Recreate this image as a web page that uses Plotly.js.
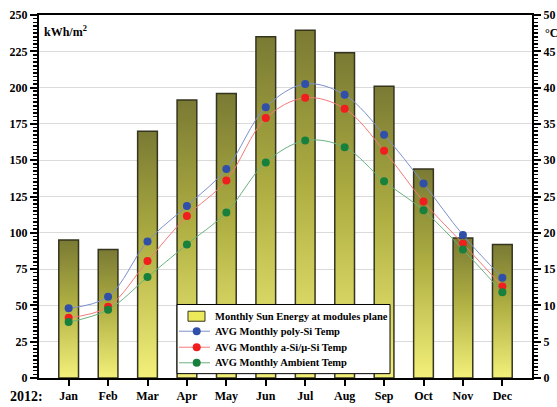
<!DOCTYPE html>
<html>
<head>
<meta charset="utf-8">
<script src="https://cdn.plot.ly/plotly-3.0.1.min.js"></script>
<style>
  html, body { margin: 0; padding: 0; background: #fff; }
  #chart { width: 557px; height: 407px; }
</style>
</head>
<body>
<div id="chart"></div>
<script>
// Monthly solar energy on the module plane (kWh/m2) and average monthly temperatures (°C), 2012
const months = ['Jan', 'Feb', 'Mar', 'Apr', 'May', 'Jun', 'Jul', 'Aug', 'Sep', 'Oct', 'Nov', 'Dec'];
const sunEnergy = [95, 88.5, 170, 191.5, 196, 235, 239.5, 224, 201, 144, 96.5, 92];
const polySiTemp = [9.6, 11.2, 18.8, 23.7, 28.8, 37.3, 40.5, 39.0, 33.5, 26.8, 19.7, 13.8];
const aSiTemp = [8.3, 9.8, 16.1, 22.3, 27.2, 35.8, 38.6, 37.1, 31.3, 24.3, 18.5, 12.6];
const ambientTemp = [7.7, 9.4, 13.9, 18.4, 22.8, 29.7, 32.7, 31.8, 27.1, 23.1, 17.7, 11.8];
const seriesNames = [
  'Monthly Sun Energy at modules plane',
  'AVG Monthly poly-Si Temp',
  'AVG Monthly a-Si/\u03bc-Si Temp',
  'AVG Monthly Ambient Temp'
];

const serif = '"Liberation Serif", "Times New Roman", serif';
const tickFont = { family: serif, size: 12, color: '#000', weight: 'bold' };
const barFill = '#ece95a';
const tempStyles = [
  { marker: '#2f4fa8', line: '#7d90cf' },
  { marker: '#f01e1e', line: '#f47a7a' },
  { marker: '#17803c', line: '#6cb27f' }
];

function tempTrace(name, values, style) {
  return {
    type: 'scatter', mode: 'lines+markers', name: name,
    x: months, y: values, yaxis: 'y2',
    line: { shape: 'spline', smoothing: 1, width: 1, color: style.line },
    marker: { size: 8, color: style.marker }
  };
}

const traces = [
  {
    type: 'bar', name: seriesNames[0],
    x: months, y: sunEnergy, width: 0.5,
    marker: { color: barFill, line: { color: '#35351f', width: 1.5 } }
  },
  tempTrace(seriesNames[1], polySiTemp, tempStyles[0]),
  tempTrace(seriesNames[2], aSiTemp, tempStyles[1]),
  tempTrace(seriesNames[3], ambientTemp, tempStyles[2])
];

// Boxed key in the lower middle of the plot, drawn with shapes and annotations
const key = { x0: 0.280, x1: 0.712, y0: 0.012, y1: 0.2025,
              rows: [0.1702, 0.1289, 0.0848, 0.0419],
              lineX0: 0.284, lineX1: 0.3469, markX: 0.3199, textX: 0.3523 };
const keyShapes = [
  { type: 'rect', xref: 'paper', yref: 'paper', x0: key.x0, x1: key.x1, y0: key.y0, y1: key.y1,
    fillcolor: '#fff', line: { color: '#000', width: 1 }, layer: 'above' },
  { type: 'rect', xref: 'paper', yref: 'paper', x0: 0.3022, x1: 0.3367,
    y0: key.rows[0] - 0.0138, y1: key.rows[0] + 0.0138,
    fillcolor: barFill, line: { color: '#35351f', width: 1 }, layer: 'above' }
];
tempStyles.forEach(function (s, i) {
  const y = key.rows[i + 1];
  keyShapes.push({ type: 'line', xref: 'paper', yref: 'paper', x0: key.lineX0, x1: key.lineX1, y0: y, y1: y,
    line: { color: s.line, width: 1 }, layer: 'above' });
  keyShapes.push({ type: 'circle', xref: 'paper', yref: 'paper', xsizemode: 'pixel', ysizemode: 'pixel',
    xanchor: key.markX, yanchor: y, x0: -4, x1: 4, y0: -4, y1: 4,
    fillcolor: s.marker, line: { width: 0 }, layer: 'above' });
});
const keyLabels = seriesNames.map(function (name, i) {
  return { text: name, xref: 'paper', yref: 'paper', x: key.textX, y: key.rows[i],
    xanchor: 'left', yanchor: 'middle', showarrow: false,
    font: { family: serif, size: 10.5, color: '#000', weight: 'bold' } };
});

const layout = {
  width: 557, height: 407,
  margin: { l: 39, r: 25, t: 15, b: 29, pad: 0 },
  paper_bgcolor: '#fff', plot_bgcolor: '#fff',
  showlegend: false,
  font: { family: serif, color: '#000' },
  xaxis: {
    type: 'category', tickfont: tickFont,
    showline: true, linecolor: '#000', linewidth: 2, mirror: true,
    ticks: 'outside', ticklen: 6, tickwidth: 2, tickcolor: '#000',
    showgrid: false, zeroline: false
  },
  yaxis: {
    range: [0, 250], dtick: 25, tickfont: tickFont,
    showline: true, linecolor: '#000', linewidth: 2,
    ticks: 'outside', ticklen: 7, tickwidth: 2, tickcolor: '#000',
    minor: { dtick: 2.5, ticks: 'outside', ticklen: 4, tickwidth: 1.5, tickcolor: '#000', showgrid: false },
    showgrid: true, gridcolor: '#dadada', gridwidth: 1, zeroline: false
  },
  yaxis2: {
    range: [0, 50], dtick: 5, overlaying: 'y', side: 'right', tickfont: tickFont,
    showline: true, linecolor: '#000', linewidth: 2,
    ticks: 'outside', ticklen: 7, tickwidth: 2, tickcolor: '#000',
    minor: { dtick: 0.5, ticks: 'outside', ticklen: 4, tickwidth: 1.5, tickcolor: '#000', showgrid: false },
    showgrid: false, zeroline: false
  },
  shapes: keyShapes,
  annotations: [
    { text: 'kWh/m<sup>2</sup>', xref: 'paper', yref: 'paper', x: 0.006, y: 0.955,
      xanchor: 'left', yanchor: 'middle', showarrow: false,
      font: { family: serif, size: 12, color: '#000', weight: 'bold' } },
    { text: '\u00b0C', xref: 'paper', yref: 'paper', x: 1.022, y: 0.95,
      xanchor: 'left', yanchor: 'middle', showarrow: false,
      font: { family: serif, size: 12, color: '#000', weight: 'bold' } },
    { text: '2012:', xref: 'paper', yref: 'paper', x: -0.026, y: -0.05,
      xanchor: 'center', yanchor: 'middle', showarrow: false,
      font: { family: serif, size: 14, color: '#000', weight: 'bold' } }
  ].concat(keyLabels)
};

Plotly.newPlot('chart', traces, layout, { staticPlot: true }).then(function (gd) {
  // vertical olive-to-yellow fill for each energy bar
  const svg = gd.querySelector('.main-svg');
  const ns = 'http://www.w3.org/2000/svg';
  let defs = svg.querySelector('defs');
  if (!defs) { defs = document.createElementNS(ns, 'defs'); svg.insertBefore(defs, svg.firstChild); }
  const grad = document.createElementNS(ns, 'linearGradient');
  grad.setAttribute('id', 'sunBarFill');
  grad.setAttribute('x1', '0'); grad.setAttribute('y1', '0');
  grad.setAttribute('x2', '0'); grad.setAttribute('y2', '1');
  [['0%', '#7a7a34'], ['45%', '#aeae42'], ['100%', '#f3f07a']].forEach(function (s) {
    const stop = document.createElementNS(ns, 'stop');
    stop.setAttribute('offset', s[0]);
    stop.setAttribute('stop-color', s[1]);
    grad.appendChild(stop);
  });
  defs.appendChild(grad);
  gd.querySelectorAll('.barlayer .trace .point path').forEach(function (p) {
    p.style.fill = 'url(#sunBarFill)';
  });
});
</script>
</body>
</html>
